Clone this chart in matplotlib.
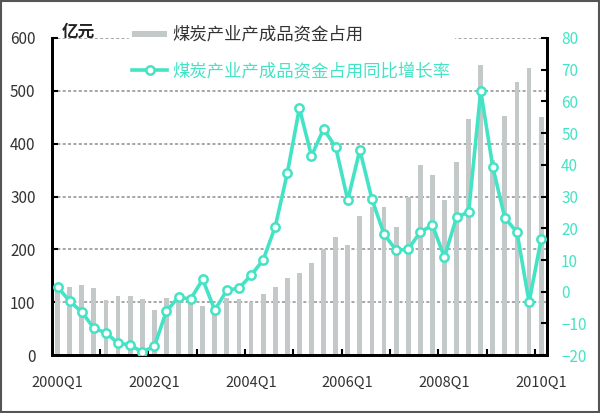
##coal industry finished goods capital, quarterly 2000Q1-2010Q1

import matplotlib
matplotlib.use('Agg')
import matplotlib.pyplot as plt
import numpy as np

plt.rcParams['font.family'] = ['Noto Sans CJK SC', 'DejaVu Sans']

##data
quarters = ['%dQ%d' % (y, q) for y in range(2000, 2011) for q in range(1, 5)][:41]
capital = [130, 129, 133, 127, 104, 112, 112, 106, 85, 108,
           104, 112, 93, 95, 108, 106, 100, 116, 129, 146,
           156, 174, 200, 224, 209, 264, 280, 281, 243, 300,
           360, 340, 294, 366, 446, 549, 370, 452, 516, 544,
           450]
growth = [1.5, -3, -6.4, -11.5, -13, -16.2, -16.8, -19, -17.2, -6.1,
          -1.7, -2.3, 3.9, -5.8, 0.5, 1.1, 5.2, 10, 20.5, 37.4,
          57.9, 42.8, 51.3, 45.6, 28.9, 44.7, 29.2, 18.2, 13.1, 13.4,
          18.8, 21, 10.9, 23.5, 25.1, 63.3, 39.3, 23.2, 18.8, -3.3,
          16.6]
label_bar = '煤炭产业产成品资金占用'
label_line = '煤炭产业产成品资金占用同比增长率'

cyan = '#45e3c5'
grey = '#c3c8c8'

fig = plt.figure(figsize=(6, 4.13), dpi=100)
ax = fig.add_axes([0.087, 0.14, 0.825, 0.768])
ax2 = ax.twinx()

x = np.arange(len(quarters))
b = ax.bar(x, capital, width=0.4, color=grey, zorder=2, label=label_bar)
l, = ax2.plot(x, growth, color=cyan, lw=2.6, marker='o', ms=6,
              mfc='white', mec=cyan, mew=1.8, zorder=3, label=label_line)

##axes
ax.set_ylim(0, 600)
ax.set_yticks(range(0, 601, 100))
ax2.set_ylim(-20, 80)
ax2.set_yticks(range(-20, 81, 10))
ax.set_xlim(-0.45, 40.5)
ax.set_xticks(range(0, 41, 8))
ax.set_xticklabels([quarters[i] for i in range(0, 41, 8)])
ax.set_xticks(np.arange(3.5, 40, 4), minor=True)
ax.tick_params(axis='x', which='major', length=0, pad=15, labelsize=10.5, labelcolor='#333333')
ax.tick_params(axis='x', which='minor', direction='in', length=4, width=1.5, color='black')
ax.tick_params(axis='y', direction='in', length=4, width=1.5, labelsize=11, labelcolor='#333333', pad=12)
ax2.tick_params(axis='y', direction='in', length=4, width=1.5, labelsize=11, labelcolor=cyan, pad=10)

ax.yaxis.grid(True, linestyle=(0, (2, 1.5)), color='#8f8f8f', linewidth=1.1, zorder=0)
ax.set_axisbelow(True)

for a in (ax, ax2):
    a.spines['top'].set_visible(False)
    for s in ('left', 'right', 'bottom'):
        a.spines[s].set_linewidth(2)
        a.spines[s].set_color('black')

fig.text(0.103, 0.912, '亿元', fontsize=12, color='#222222', fontweight='bold', va='baseline')

leg = ax.legend([b, l], [label_bar, label_line], loc='upper left',
                bbox_to_anchor=(0.155, 1.05), frameon=True, fontsize=12.5,
                handlelength=2.0, handletextpad=0.3, labelspacing=1.05,
                borderpad=0.2, borderaxespad=0)
leg.get_frame().set_edgecolor('white')
leg.get_frame().set_facecolor('white')
leg.get_frame().set_alpha(1)
leg.set_zorder(10)
leg.get_texts()[0].set_color('#333333')
leg.get_texts()[1].set_color(cyan)
for h in leg.legend_handles[:1]:
    h.set_height(4)
    h.set_y(2)

##outer border
fig.patches.append(plt.Rectangle((0.002, 0.002), 0.996, 0.996, transform=fig.transFigure,
                                 fill=False, edgecolor='#555555', linewidth=1.5))

plt.savefig('out.png', dpi=100)
